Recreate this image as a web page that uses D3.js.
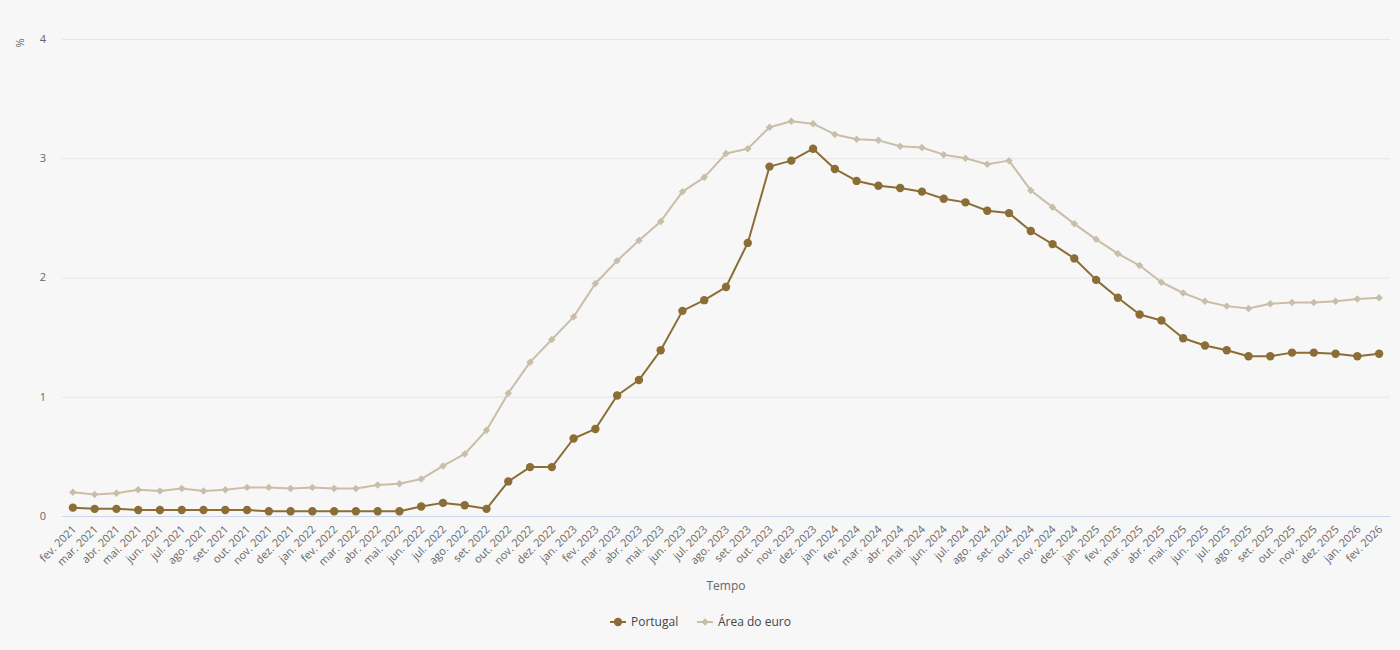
<!DOCTYPE html>
<html><head><meta charset="utf-8">
<script src="https://cdn.jsdelivr.net/npm/d3@7/dist/d3.min.js"></script>
<style>
html,body{margin:0;padding:0;background:#f7f7f7;}
svg{display:block;font-family:"Open Sans",sans-serif;}
</style></head>
<body><svg id="c" width="1400" height="650"></svg>
<script>
const months = ["jan.","fev.","mar.","abr.","mai.","jun.","jul.","ago.","set.","out.","nov.","dez."];
const categories = [];
for (let yr = 2021, m = 1; yr < 2026 || (yr === 2026 && m <= 1); ) {
  categories.push(months[m] + " " + yr);
  m++; if (m === 12) { m = 0; yr++; }
}

const portugal = [0.07,0.06,0.06,0.05,0.05,0.05,0.05,0.05,0.05,0.04,0.04,
  0.04,0.04,0.04,0.04,0.04,0.08,0.11,0.09,0.06,0.29,0.41,0.41,
  0.65,0.73,1.01,1.14,1.39,1.72,1.81,1.92,2.29,2.93,2.98,3.08,
  2.91,2.81,2.77,2.75,2.72,2.66,2.63,2.56,2.54,2.39,2.28,2.16,
  1.98,1.83,1.69,1.64,1.49,1.43,1.39,1.34,1.34,1.37,1.37,1.36,
  1.34,1.36];
const euro = [0.20,0.18,0.19,0.22,0.21,0.23,0.21,0.22,0.24,0.24,0.23,
  0.24,0.23,0.23,0.26,0.27,0.31,0.42,0.52,0.72,1.03,1.29,1.48,
  1.67,1.95,2.14,2.31,2.47,2.72,2.84,3.04,3.08,3.26,3.31,3.29,
  3.20,3.16,3.15,3.10,3.09,3.03,3.00,2.95,2.98,2.73,2.59,2.45,
  2.32,2.20,2.10,1.96,1.87,1.80,1.76,1.74,1.78,1.79,1.79,1.80,
  1.82,1.83];
const yTicks = [0,1,2,3,4];
const seriesNames = ["Portugal","Área do euro"];
const colors = ["#8b6d35","#c9bea7"];

(function(){
const svg = d3.select("#c");
const pl = 62, pr = 1390, pt = 39, pb = 516;

const x = d3.scalePoint().domain(categories).range([pl, pr]).padding(0.5);
const y = d3.scaleLinear().domain([0,4]).range([pb, pt]);

yTicks.forEach(t => {
  if (t === 0) return;
  svg.append("line").attr("x1", pl).attr("x2", pr)
    .attr("y1", y(t) + 0.5).attr("y2", y(t) + 0.5).attr("stroke", "#e6e6e6").attr("stroke-width", 1);
});
yTicks.forEach(t => {
  svg.append("text").attr("x", 46).attr("y", y(t)).attr("dy", "0.35em")
    .attr("text-anchor", "end").attr("font-size", 11).attr("fill", "#666").text(t);
});
svg.append("line").attr("x1", pl).attr("x2", pr).attr("y1", pb + 0.5).attr("y2", pb + 0.5)
  .attr("stroke", "#ccd6eb").attr("stroke-width", 1);

svg.append("text").attr("transform", `translate(24,${y(4)+4}) rotate(-90)`)
  .attr("text-anchor", "middle").attr("font-size", 11).attr("fill", "#666").text("%");

categories.forEach(c => {
  svg.append("text").attr("transform", `translate(${x(c)+4},${pb + 14}) rotate(-45)`)
    .attr("text-anchor", "end").attr("font-size", 11).attr("fill", "#666").text(c);
});
svg.append("text").attr("x", (pl + pr) / 2).attr("y", 590).attr("text-anchor", "middle")
  .attr("font-size", 12).attr("fill", "#666").text("Tempo");

const line = d3.line().x((d, i) => x(categories[i])).y(d => y(d));
const diamond = d3.symbol().type(d3.symbolSquare).size(28);

svg.append("path").datum(euro).attr("d", line).attr("fill", "none")
  .attr("stroke", colors[1]).attr("stroke-width", 2).attr("stroke-linejoin", "round");
svg.append("g").selectAll("path").data(euro).join("path")
  .attr("transform", (d, i) => `translate(${x(categories[i])},${y(d)}) rotate(45)`)
  .attr("d", diamond).attr("fill", colors[1]);

svg.append("path").datum(portugal).attr("d", line).attr("fill", "none")
  .attr("stroke", colors[0]).attr("stroke-width", 2).attr("stroke-linejoin", "round");
svg.append("g").selectAll("circle").data(portugal).join("circle")
  .attr("cx", (d, i) => x(categories[i])).attr("cy", d => y(d)).attr("r", 4.2)
  .attr("fill", colors[0]);

const ly = 622;
svg.append("line").attr("x1", 610).attr("x2", 626).attr("y1", ly).attr("y2", ly)
  .attr("stroke", colors[0]).attr("stroke-width", 2);
svg.append("circle").attr("cx", 618).attr("cy", ly).attr("r", 4.2).attr("fill", colors[0]);
svg.append("text").attr("x", 631).attr("y", ly).attr("dy", "0.35em").attr("font-size", 12)
  .attr("fill", "#444").text(seriesNames[0]);
svg.append("line").attr("x1", 697).attr("x2", 713).attr("y1", ly).attr("y2", ly)
  .attr("stroke", colors[1]).attr("stroke-width", 2);
svg.append("path").attr("transform", `translate(705,${ly}) rotate(45)`).attr("d", diamond).attr("fill", colors[1]);
svg.append("text").attr("x", 718).attr("y", ly).attr("dy", "0.35em").attr("font-size", 12)
  .attr("fill", "#444").text(seriesNames[1]);
})();
</script></body></html>
